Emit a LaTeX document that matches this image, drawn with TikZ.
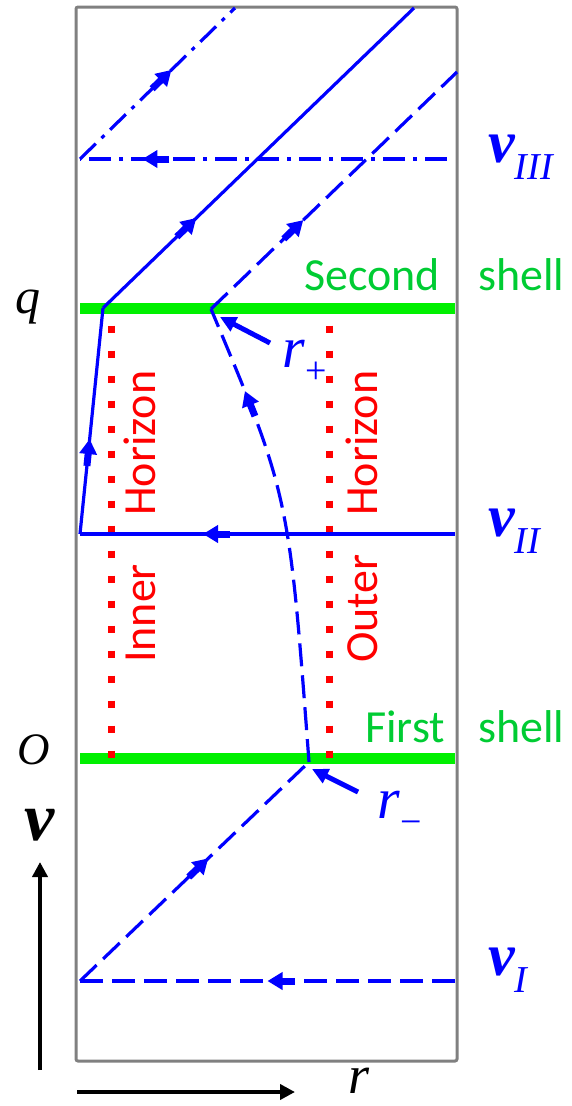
\documentclass[tikz,border=0pt]{standalone}
\usepackage{fontspec}
\setmainfont{Carlito}
\newfontfamily\tnr{Liberation Serif}
\usetikzlibrary{arrows.meta,decorations.markings}
\definecolor{shellgreen}{RGB}{0,240,0}
\definecolor{textgreen}{RGB}{0,204,51}
\definecolor{boxgray}{RGB}{128,128,128}
\definecolor{myblue}{RGB}{0,0,255}
\definecolor{myred}{RGB}{255,0,0}
\tikzset{
  wl/.style={myblue, line width=3.2pt},
  dashedline/.style={wl, dash pattern=on 23pt off 9pt},
  dashdotline/.style={wl, dash pattern=on 22pt off 8pt on 4pt off 8pt},
  midarrow/.style={postaction={decorate}, decoration={markings, mark=at position #1 with {\draw[myblue, solid, line width=7pt, -{Triangle[length=15pt,width=17pt]}] (-27pt,0pt) -- (0pt,0pt);}}},
  shell/.style={shellgreen, line width=11pt},
  horizon/.style={myred, line width=7pt, dash pattern=on 7pt off 18pt},
  greentext/.style={textgreen, inner sep=0pt, anchor=base west, font=\fontsize{46}{46}\selectfont},
  redtext/.style={myred, inner sep=0pt, anchor=base west, rotate=90, font=\fontsize{46}{46}\selectfont},
  blacklbl/.style={black, inner sep=0pt, anchor=base west},
  vlbl/.style={myblue, inner sep=0pt, anchor=base west},
  pointer/.style={myblue, line width=5pt, -{Triangle[length=16pt,width=15pt]}},
  axis/.style={black, line width=4pt, -{Triangle[length=15pt,width=15pt]}}
}
\newcommand\vsym{{\tnr\bfseries\itshape\fontsize{60}{60}\selectfont v}}
\newcommand\vsub[1]{\raisebox{-17pt}{\tnr\itshape\fontsize{38}{38}\selectfont #1}}
\newcommand\rsym{{\tnr\itshape\fontsize{58}{58}\selectfont r}}
\newcommand\rsub[1]{\kern1pt\raisebox{-16.5pt}{\tnr\fontsize{38}{38}\selectfont #1}}
\begin{document}
\begin{tikzpicture}[x=1pt,y=-1pt]
\useasboundingbox (0,0) rectangle (572,1106);
% coordinates
\coordinate (A3) at (80,159);
\coordinate (B3) at (447,159);
\coordinate (T1) at (235,8);
\coordinate (K2) at (103,308);
\coordinate (T2) at (414,8);
\coordinate (P2) at (211,309);
\coordinate (T3) at (457,72);
\coordinate (A2) at (80,534);
\coordinate (B2) at (455,534);
\coordinate (P1) at (309,762);
\coordinate (A1) at (80,981);
\coordinate (B1) at (455,981);
\coordinate (C1) at (289,495);
\coordinate (S2l) at (80,308);
\coordinate (S2r) at (455,308);
\coordinate (S1l) at (80,758);
\coordinate (S1r) at (455,758);
\coordinate (Hi1) at (111,325.5);
\coordinate (Hi2) at (111,760);
\coordinate (Ho1) at (329,325.5);
\coordinate (Ho2) at (329,760);
\coordinate (rpA) at (270,343);
\coordinate (rpT) at (220,317);
\coordinate (rmA) at (358,792);
\coordinate (rmT) at (312,769);
\coordinate (vax0) at (40,1070);
\coordinate (vax1) at (40,862);
\coordinate (rax0) at (77,1092);
\coordinate (rax1) at (295,1092);
% frame
\draw[boxgray, line width=3pt, rounded corners=2pt] (76,7) rectangle (457,1061);
% shells
\draw[shell] (S2l) -- (S2r);
\draw[shell] (S1l) -- (S1r);
% horizons
\draw[horizon] (Hi1) -- (Hi2);
\draw[horizon] (Ho1) -- (Ho2);
% world lines
\draw[dashdotline, midarrow=0.83] (B3) -- (A3);
\draw[dashdotline, midarrow=0.59] (A3) -- (T1);
\draw[wl, midarrow=0.30] (K2) -- (T2);
\draw[dashedline, midarrow=0.375] (P2) -- (T3);
\draw[wl, midarrow=0.42, line join=round] (A2) -- (K2);
\draw[wl, midarrow=0.672] (B2) -- (A2);
\draw[dashedline, midarrow=0.81] (P1) .. controls (C1) .. (P2);
\draw[dashedline, midarrow=0.56] (A1) -- (P1);
\draw[dashedline, midarrow=0.50] (B1) -- (A1);
% pointers
\draw[pointer] (rpA) -- (rpT);
\draw[pointer] (rmA) -- (rmT);
% axes
\draw[axis] (vax0) -- (vax1);
\draw[axis] (rax0) -- (rax1);
% texts
\node[greentext] (second) at (304,290) {Second};
\node[greentext] (shell2) at (478,290) {shell};
\node[greentext] (first) at (365,742) {First};
\node[greentext] (shell1) at (478,742) {shell};
\node[redtext] (horin) at (155,516) {Horizon};
\node[redtext] (inner) at (155,663) {Inner};
\node[redtext] (horout) at (377,516) {Horizon};
\node[redtext] (outer) at (377,663) {Outer};
\node[vlbl] (v3) at (488,162) {\vsym\vsub{III}};
\node[vlbl] (v2) at (488,536) {\vsym\vsub{II}};
\node[vlbl] (v1) at (488,975) {\vsym\vsub{I}};
\node[vlbl] (rp) at (282,367) {\rsym\rsub{+}};
\node[vlbl] (rm) at (377,818) {\rsym\rsub{−}};
\node[blacklbl, font=\tnr\itshape\fontsize{50}{50}\selectfont] (q) at (15,313) {q};
\node[blacklbl, font=\tnr\itshape\fontsize{45}{45}\selectfont] (O) at (17,764) {O};
\node[blacklbl, font=\tnr\bfseries\itshape\fontsize{68}{68}\selectfont] (v) at (24,840) {v};
\node[blacklbl, font=\tnr\itshape\fontsize{54}{54}\selectfont] (r) at (348,1093) {r};
\end{tikzpicture}
\end{document}
